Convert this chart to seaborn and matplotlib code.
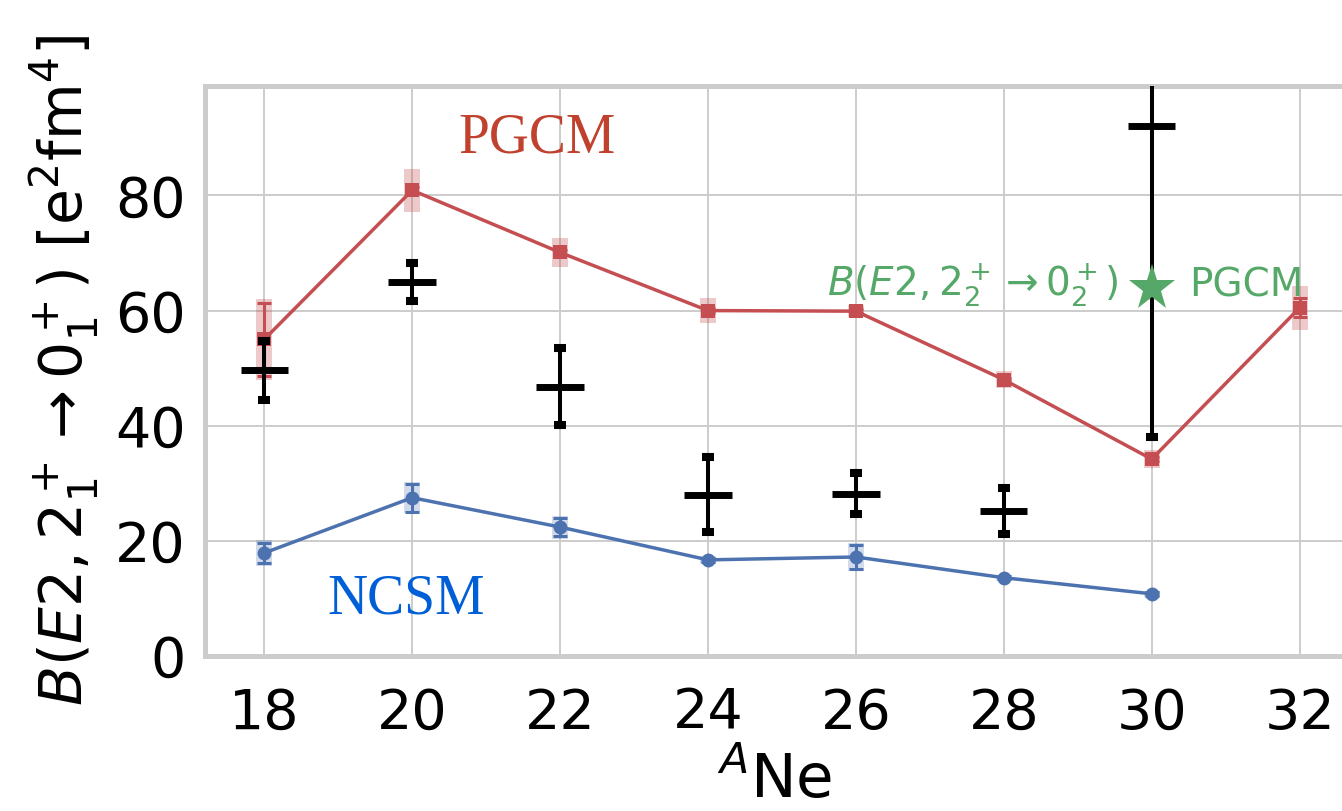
import matplotlib
matplotlib.use("Agg")
import matplotlib.pyplot as plt
import seaborn as sns
import pandas as pd

# Mass numbers of the neon isotopes
A_pgcm = [18, 20, 22, 24, 26, 28, 30, 32]
A_ncsm = [18, 20, 22, 24, 26, 28, 30]
A_exp = [18, 20, 22, 24, 26, 28, 30]

# B(E2; 2+ -> 0+) values in e^2 fm^4
pgcm_be2 = [55.0, 80.9, 70.1, 60.0, 59.9, 48.0, 34.2, 60.5]
pgcm_err = [6.4, 0.5, 0.5, 0.5, 0.3, 0.3, 0.4, 1.7]
pgcm_band = [7.0, 3.7, 2.5, 2.2, 1.0, 1.5, 1.6, 3.8]

ncsm_be2 = [17.9, 27.5, 22.4, 16.7, 17.2, 13.6, 10.8]
ncsm_err = [1.8, 2.4, 1.5, 0.3, 2.1, 0.3, 0.3]
ncsm_band = [2.2, 2.7, 2.0, 0.7, 2.4, 0.5, 0.5]

exp_be2 = [49.6, 65.0, 46.8, 28.0, 28.2, 25.2, 92.0]
exp_err = [5.2, 3.3, 6.7, 6.5, 3.6, 4.0, 54.0]

# Second 2+ -> 0+ transition in 30Ne from PGCM
A_second = [30]
second_be2 = [64.0]

x_ticks = [18, 20, 22, 24, 26, 28, 30, 32]
y_ticks = [0, 20, 40, 60, 80]

red = "#c44e52"
blue = "#4c72b0"
green = "#55a868"

sns.set_theme(style="whitegrid", rc={
    "axes.edgecolor": "#cccccc",
    "axes.linewidth": 3.6,
    "grid.color": "#cccccc",
    "grid.linewidth": 1.4,
    "text.color": "black",
    "axes.labelcolor": "black",
    "xtick.color": "black",
    "ytick.color": "black",
})
plt.rcParams["font.family"] = ["DejaVu Sans"]
plt.rcParams["mathtext.fontset"] = "dejavusans"

fig = plt.figure(figsize=(13.42, 8.11), dpi=100)
ax = fig.add_axes([0.1528, 0.1911, 0.8487, 0.7028])

pgcm_df = pd.DataFrame({"A": A_pgcm, "B": pgcm_be2})
ncsm_df = pd.DataFrame({"A": A_ncsm, "B": ncsm_be2})

# Theory curves
sns.lineplot(data=pgcm_df, x="A", y="B", ax=ax, color=red, marker="s",
             markersize=10, markeredgewidth=0, linewidth=2.5, zorder=3)
sns.lineplot(data=ncsm_df, x="A", y="B", ax=ax, color=blue, marker="o",
             markersize=10, markeredgewidth=0, linewidth=2.5, zorder=3)

# Uncertainty bands and error bars
ax.errorbar(A_pgcm, pgcm_be2, yerr=pgcm_band, fmt="none", ecolor=red,
            elinewidth=11.5, alpha=0.3, zorder=2)
ax.errorbar(A_pgcm, pgcm_be2, yerr=pgcm_err, fmt="none", ecolor=red,
            elinewidth=2.2, capsize=4.7, capthick=2.2, zorder=3)
ax.errorbar(A_ncsm, ncsm_be2, yerr=ncsm_band, fmt="none", ecolor=blue,
            elinewidth=11.5, alpha=0.25, zorder=2)
ax.errorbar(A_ncsm, ncsm_be2, yerr=ncsm_err, fmt="none", ecolor=blue,
            elinewidth=2.2, capsize=4.7, capthick=2.2, zorder=3)

# Experimental data
ax.errorbar(A_exp, exp_be2, yerr=exp_err, fmt="none", ecolor="black",
            elinewidth=2.9, capsize=4.3, capthick=5.8, zorder=5)
ax.errorbar(A_exp, exp_be2, xerr=0.32, fmt="none", ecolor="black",
            elinewidth=5.0, capsize=0, zorder=5)

# 2_2+ -> 0_2+ transition
ax.plot(A_second, second_be2, linestyle="none", marker="*", markersize=35,
        color=green, markeredgewidth=0, zorder=6)
ax.text(29.55, 62.5, r"$B(E2,2_2^+\rightarrow0_2^+)$", color=green,
        fontsize=28, ha="right", va="baseline")
ax.text(30.5, 62.5, "PGCM", color=green, fontsize=28, ha="left",
        va="baseline")

# Method labels
ax.text(20.62, 87.5, "PGCM", color="#c0412e", fontsize=40,
        family=["Liberation Serif", "DejaVu Serif"], ha="left", va="baseline")
ax.text(18.85, 7.3, "NCSM", color="#005fd6", fontsize=40,
        family=["Liberation Serif", "DejaVu Serif"], ha="left", va="baseline")

ax.set_xlim(17.2, 32.6)
ax.set_ylim(0, 99)
ax.set_xticks(x_ticks)
ax.set_yticks(y_ticks)
ax.tick_params(axis="both", labelsize=40, length=0)
ax.tick_params(axis="x", pad=22)
ax.tick_params(axis="y", pad=14)
ax.set_xlabel(r"$^{A}$Ne", fontsize=44, labelpad=8)
ax.set_ylabel(r"$B(E2,2_1^+\rightarrow0_1^+)$ [e$^2$fm$^4$]", fontsize=42,
              labelpad=10)
ax.spines["right"].set_visible(False)

fig.savefig("out.png", dpi=100)
